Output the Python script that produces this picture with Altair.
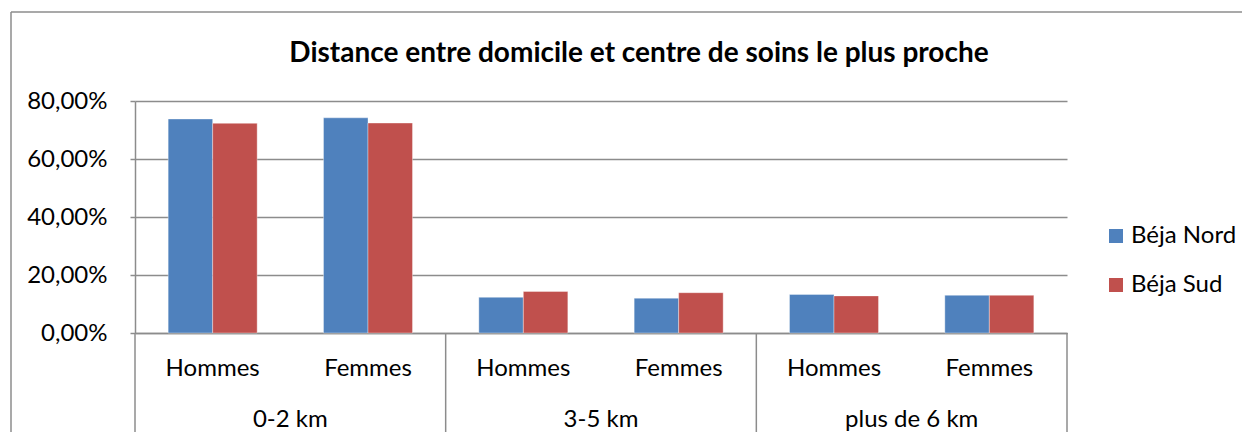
import altair as alt
import pandas as pd

groups = ["0-2 km", "3-5 km", "plus de 6 km"]
sexes = ["Hommes", "Femmes"]
series = ["Béja Nord", "Béja Sud"]
nord = [73.8, 74.2, 12.3, 12.0, 13.3, 13.0]
sud = [72.3, 72.4, 14.3, 13.9, 12.8, 13.0]
y_ticks = [0, 20, 40, 60, 80]
title_text = "Distance entre domicile et centre de soins le plus proche"
colors = ["#4F81BD", "#C0504D"]

FONT = "Lato"
FS = 24
W, H = 932, 232
PAD = {"left": 127, "top": 93, "right": 175, "bottom": 99}

cats = [f"{g}|{s}" for g in groups for s in sexes]
rows = []
for i, c in enumerate(cats):
    rows.append({"cat": c, "serie": series[0], "val": nord[i]})
    rows.append({"cat": c, "serie": series[1], "val": sud[i]})
df = pd.DataFrame(rows)

p = 0.427
bars = alt.Chart(df).mark_bar(stroke="white", strokeWidth=0.6, strokeOpacity=0.6).encode(
    x=alt.X("cat:N", sort=cats, title=None,
            scale=alt.Scale(paddingInner=p, paddingOuter=p / 2),
            axis=alt.Axis(labelExpr="split(datum.value, '|')[1]", ticks=False,
                          labelPadding=35, labelBaseline="middle", labelAngle=0,
                          labelFontSize=FS, labelFont=FONT, labelColor="#000000",
                          domainColor="#8c8c8c", domainWidth=1.5, grid=False)),
    xOffset=alt.XOffset("serie:N", sort=series, scale=alt.Scale(paddingInner=0, paddingOuter=0)),
    y=alt.Y("val:Q", title=None,
            scale=alt.Scale(domain=[0, 80], nice=False),
            axis=alt.Axis(values=y_ticks,
                          labelExpr="replace(format(datum.value, '.2f'), '.', ',') + '%'",
                          tickSize=5, tickColor="#8c8c8c", tickWidth=1.5,
                          domainColor="#8c8c8c", domainWidth=1.5,
                          gridColor="#8c8c8c", gridWidth=1.5,
                          labelPadding=23, labelFontSize=FS, labelFont=FONT,
                          labelColor="#000000")),
    color=alt.Color("serie:N", sort=series, scale=alt.Scale(domain=series, range=colors),
                    legend=alt.Legend(title=None, orient="none", legendX=969, legendY=123,
                                      symbolType="square", symbolSize=196, symbolStrokeWidth=0,
                                      labelFontSize=FS, labelFont=FONT, labelColor="#000000",
                                      labelOffset=3, rowPadding=25, padding=0)),
)

gdf = pd.DataFrame({"pos": [0.5, 1.5, 2.5], "label": groups})
sdf = pd.DataFrame({"pos": [0, 1, 2, 3]})

seps = alt.Chart(sdf).mark_rule(color="#8c8c8c", strokeWidth=1.5).encode(
    x=alt.X("pos:Q", scale=alt.Scale(domain=[0, 3], nice=False), axis=None),
    y=alt.value(H),
    y2=alt.value(H + 104),
)

glabels = alt.Chart(gdf).mark_text(fontSize=FS, font=FONT, color="#000000", baseline="middle").encode(
    x=alt.X("pos:Q", scale=alt.Scale(domain=[0, 3], nice=False), axis=None),
    y=alt.value(H + 87),
    text="label:N",
)

frame = pd.DataFrame({"k": [0]})
border_top = alt.Chart(frame).mark_rule(color="#8c8c8c", strokeWidth=1.5).encode(
    x=alt.value(-124), x2=alt.value(W + PAD["right"]), y=alt.value(-89)
)
border_left = alt.Chart(frame).mark_rule(color="#8c8c8c", strokeWidth=1.5).encode(
    x=alt.value(-124), y=alt.value(-89), y2=alt.value(H + PAD["bottom"])
)

chart = alt.layer(border_top, border_left, bars, seps, glabels).resolve_scale(x="independent").properties(
    width=W, height=H,
    title=alt.TitleParams(title_text, font=FONT, fontSize=28, fontWeight="bold", color="#000000",
                          anchor="middle", dx=38, offset=0, baseline="middle", dy=71),
    autosize=alt.AutoSizeParams(type="none"),
    padding=PAD,
    background="white",
).configure_view(stroke=None)

chart.save("out.html", embed_options={"renderer": "svg", "actions": False})
